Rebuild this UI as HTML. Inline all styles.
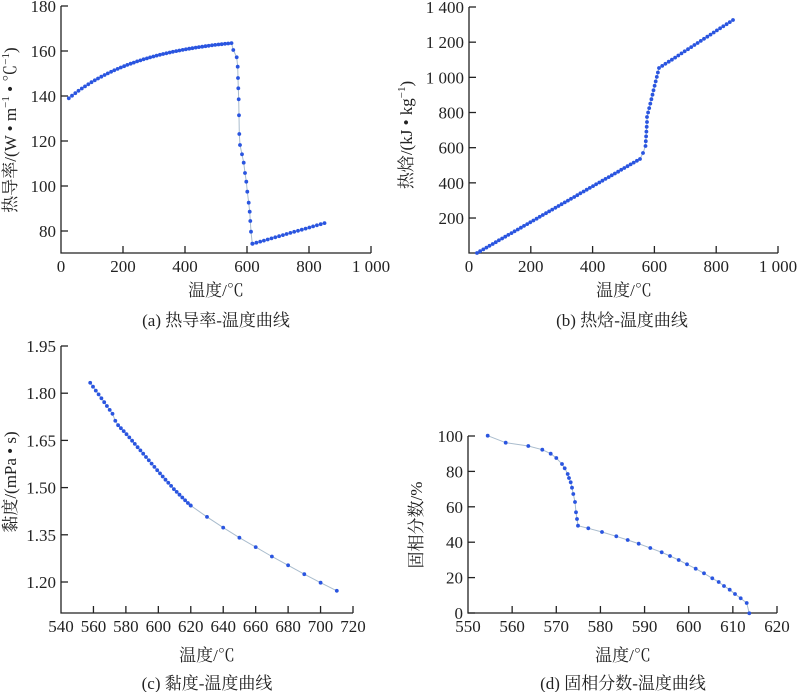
<!DOCTYPE html>
<html><head><meta charset="utf-8"><style>
html,body{margin:0;padding:0;background:#fff;width:800px;height:692px;overflow:hidden}
svg{display:block}
text{font-family:"Liberation Serif","Noto Serif CJK SC",serif;font-size:17px;fill:#222}
</style></head><body>
<svg id="s" width="800" height="692" xmlns="http://www.w3.org/2000/svg">
<g stroke="#222" stroke-width="1.3" fill="none">
<polyline points="61,6 61,253 371,253"/>
<polyline points="469,7 469,253 778,253"/>
<polyline points="61,346 61,613 353,613"/>
<polyline points="468,436 468,613 777,613"/>
</g>
<g id="ticks" stroke="#222" stroke-width="1.3"></g>
<g id="series"></g>
<g id="labels"></g>
<text x="216" y="296" text-anchor="middle">温度/℃</text>
<text x="216" y="326" text-anchor="middle">(a) 热导率-温度曲线</text>
<text x="624" y="296" text-anchor="middle">温度/℃</text>
<text x="622" y="326" text-anchor="middle">(b) 热焓-温度曲线</text>
<text x="207" y="661" text-anchor="middle">温度/℃</text>
<text x="207" y="689" text-anchor="middle">(c) 黏度-温度曲线</text>
<text x="623" y="661" text-anchor="middle">温度/℃</text>
<text x="623" y="689" text-anchor="middle">(d) 固相分数-温度曲线</text>
<text transform="translate(16,130) rotate(-90)" text-anchor="middle">热导率/(W • m<tspan font-size="11" dy="-7">−1</tspan><tspan dy="7"> • ℃</tspan><tspan font-size="11" dy="-7">−1</tspan><tspan dy="7">)</tspan></text>
<text transform="translate(412,135) rotate(-90)" text-anchor="middle">热焓/(kJ • kg<tspan font-size="11" dy="-7">−1</tspan><tspan dy="7">)</tspan></text>
<text transform="translate(16,482) rotate(-90)" text-anchor="middle">黏度/(mPa • s)</text>
<text transform="translate(422,525) rotate(-90)" text-anchor="middle">固相分数/%</text>
</svg>
<script>
var NS="http://www.w3.org/2000/svg";
function el(p,t,a,txt){var e=document.createElementNS(NS,t);for(var k in a)e.setAttribute(k,a[k]);if(txt!=null)e.textContent=txt;document.getElementById(p).appendChild(e);return e;}
function series(pts){el("series","polyline",{points:pts.map(function(p){return p[0].toFixed(1)+","+p[1].toFixed(1)}).join(" "),fill:"none",stroke:"#a9bccd","stroke-width":1});
pts.forEach(function(p){el("series","circle",{cx:p[0].toFixed(1),cy:p[1].toFixed(1),r:1.9,fill:"#2a55e0"});});}
// axes ticks & labels
function xaxis(x0,x1,y,vals,fmt){var n=vals.length;vals.forEach(function(v,i){var x=x0+(x1-x0)*i/(n-1);if(i>0)el("ticks","line",{x1:x,y1:y,x2:x,y2:y-7});el("labels","text",{x:x,y:y+19,"text-anchor":"middle"},v);});}
function yaxis(x,vals,ys){vals.forEach(function(v,i){el("ticks","line",{x1:x,y1:ys[i],x2:x+7,y2:ys[i]});el("labels","text",{x:x-5,y:ys[i]+6,"text-anchor":"end"},v);});}
xaxis(61,371,253,["0","200","400","600","800","1 000"]);
xaxis(469,778,253,["0","200","400","600","800","1 000"]);
xaxis(61,353,613,["540","560","580","600","620","640","660","680","700","720"]);
xaxis(468,777,613,["550","560","570","580","590","600","610","620"]);
yaxis(61,["180","160","140","120","100","80"],[6,51,96,141,186,231]);
var yb=[];for(var i=0;i<7;i++)yb.push(7+i*35.17);
yaxis(469,["1 400","1 200","1 000","800","600","400","200"],yb);
var yc=[];for(var i=0;i<6;i++)yc.push(346+i*47.2);
yaxis(61,["1.95","1.80","1.65","1.50","1.35","1.20"],yc);
var yd=[];for(var i=0;i<6;i++)yd.push(436+i*35.4);
yaxis(468,["100","80","60","40","20","0"],yd);
// panel a
function ax(T){return 61+T*0.31} function ay(v){return 6+(180-v)*2.25}
var A=[];for(var T=25;T<=550;T+=10.5){var f=(1-Math.exp(-(T-25)/250))/(1-Math.exp(-2.1));A.push([ax(T),ay(139+24.5*f)]);}
[[700,150],[710,172],[713,200],[714,234],[715,265],[716,298],[717,346],[718,402],[720,435],[726,463],[731,488],[735,519],[739,545],[742,575],[746,608],[749,635],[751,663],[753,695],[757,731]].forEach(function(p){A.push([p[0]/3,p[1]/3]);});
for(var i=0;i<20;i++){var T=618+i*(850-618)/19;A.push([ax(T),ay(74.3+9.2*(i/19))]);}
series(A);
// panel b
var B=[];for(var i=0;i<=52;i++)B.push([477+i*(640-477)/52,253-i*(253-159)/52]);
B.push([643,153]);for(var i=0;i<=5;i++)B.push([645.5+0.3*i,146-i*4.8]);
for(var i=0;i<=11;i++)B.push([647+i*(659-647)/11,117-i*(117-68)/11]);
for(var i=1;i<=23;i++)B.push([659+i*(733-659)/23,68-i*(68-20)/23]);
series(B);
// panel c
function cx(T){return 61+(T-540)*292/180} function cy(v){return 346+(1.95-v)*314.7}
var kc=[[558,1.833],[572,1.733],[574,1.705],[580,1.672],[590,1.612],[600,1.551],[610,1.493],[618,1.452],[620,1.443],[630,1.407],[640,1.373],[650,1.341],[660,1.311],[670,1.281],[680,1.253],[690,1.225],[700,1.198],[710,1.172]];
function ci(T){for(var i=0;i<kc.length-1;i++){if(T<=kc[i+1][0]){var t=(T-kc[i][0])/(kc[i+1][0]-kc[i][0]);return kc[i][1]+t*(kc[i+1][1]-kc[i][1]);}}return kc[kc.length-1][1];}
var C=[];for(var T=558;T<=620;T+=1.72)C.push([cx(T),cy(ci(T))]);C.push([cx(620),cy(ci(620))]);
for(var T=630;T<=710;T+=10)C.push([cx(T),cy(ci(T))]);
series(C);
// panel d
var D=[[263,287],[317,308],[385,318],[427,329],[452,341],[469,354],[486,372],[494,385],[503,402],[507,414],[512,427],[516,443],[520,462],[525,486],[528,517],[531,537],[534,557],[565,565],[606,576],[649,589],[683,600],[716,611],[751,624],[785,637],[810,648],[836,660],[861,673],[887,686],[912,700],[937,715],[956,726],[972,738],[989,749],[1005,762],[1022,775],[1040,789],[1048,820]].map(function(p){return [400+p[0]/3,340+p[1]/3]});
series(D);
</script>
</body></html>
